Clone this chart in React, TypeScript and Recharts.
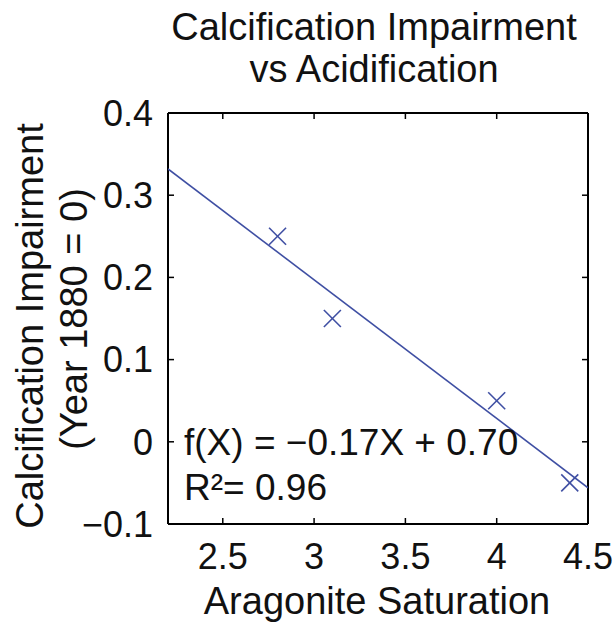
import { ComposedChart, Scatter, XAxis, YAxis, ReferenceLine } from 'recharts';

// Measured points (aragonite saturation vs impairment)
const saturation = [2.8, 3.1, 4.0, 4.4];
const impairment = [0.25, 0.15, 0.05, -0.05];

// Fit line end points, read at the plot edges
const fitX = [2.2, 4.5];
const fitY = [0.332, -0.056];

const xDomain = [2.2, 4.5];
const yDomain = [-0.1, 0.4];
const xTicks = [2.5, 3, 3.5, 4, 4.5];
const yTicks = [-0.1, 0, 0.1, 0.2, 0.3, 0.4];

const BLUE = '#3f4fa3';
const FONT = '"Liberation Sans", Arial, Helvetica, sans-serif';

const points = saturation.map((x, i) => ({ x, y: impairment[i] }));
const fit = fitX.map((x, i) => ({ x, y: fitY[i] }));

// inner tick length as a share of each axis span (about 6px on a ~415px box)
const xTickLen = (xDomain[1] - xDomain[0]) * 6 / 420;
const yTickLen = (yDomain[1] - yDomain[0]) * 6 / 411;

const Cross = (props: any) => {
    const { cx, cy } = props;
    const s = 8.5;
    return (
        <g stroke={BLUE} strokeWidth={1.6}>
            <line x1={cx - s} y1={cy - s} x2={cx + s} y2={cy + s} />
            <line x1={cx - s} y1={cy + s} x2={cx + s} y2={cy - s} />
        </g>
    );
};

const tickStyle = { fontSize: 36, fill: '#111', fontFamily: FONT };
const boxLine = { stroke: '#000', strokeWidth: 2 };

const App = () => {
    return (
        <div style={{ position: 'absolute', left: 0, top: 0, width: 615, height: 622, background: '#fff' }}>
            <ComposedChart
                width={615}
                height={622}
                margin={{ top: 112, right: 26, bottom: 38, left: 108 }}
            >
                <XAxis
                    dataKey="x"
                    type="number"
                    domain={xDomain}
                    ticks={xTicks}
                    allowDataOverflow
                    height={60}
                    tickSize={0}
                    tickMargin={19}
                    tick={tickStyle}
                    tickLine={false}
                    axisLine={boxLine}
                />
                <XAxis xAxisId="top" orientation="top" dataKey="x" type="number"
                    domain={xDomain} ticks={xTicks} allowDataOverflow height={1}
                    tick={false} tickLine={false} axisLine={boxLine} />
                <YAxis
                    dataKey="y"
                    type="number"
                    domain={yDomain}
                    ticks={yTicks}
                    allowDataOverflow
                    width={60}
                    tickSize={0}
                    tickMargin={15}
                    tick={tickStyle}
                    tickLine={false}
                    tickFormatter={(v: number) => (v < 0 ? '\u2212' + Math.abs(v) : String(v))}
                    axisLine={boxLine}
                />
                <YAxis yAxisId="right" orientation="right" dataKey="y" type="number"
                    domain={yDomain} ticks={yTicks} allowDataOverflow width={1}
                    tick={false} tickLine={false} axisLine={boxLine} />

                {/* inward tick marks on all four sides of the box */}
                {xTicks.map((t) => (
                    <ReferenceLine key={'xb' + t} stroke="#000" strokeWidth={1.5}
                        segment={[{ x: t, y: yDomain[0] }, { x: t, y: yDomain[0] + yTickLen }]} />
                ))}
                {xTicks.map((t) => (
                    <ReferenceLine key={'xt' + t} stroke="#000" strokeWidth={1.5}
                        segment={[{ x: t, y: yDomain[1] }, { x: t, y: yDomain[1] - yTickLen }]} />
                ))}
                {yTicks.map((t) => (
                    <ReferenceLine key={'yl' + t} stroke="#000" strokeWidth={1.5}
                        segment={[{ x: xDomain[0], y: t }, { x: xDomain[0] + xTickLen, y: t }]} />
                ))}
                {yTicks.map((t) => (
                    <ReferenceLine key={'yr' + t} stroke="#000" strokeWidth={1.5}
                        segment={[{ x: xDomain[1], y: t }, { x: xDomain[1] - xTickLen, y: t }]} />
                ))}

                <Scatter
                    data={fit}
                    line={{ stroke: BLUE, strokeWidth: 1.6 }}
                    shape={() => null}
                    isAnimationActive={false}
                />
                <Scatter data={points} shape={<Cross />} isAnimationActive={false} />
            </ComposedChart>

            {/* title, axis labels and fit note */}
            <svg
                width={615}
                height={622}
                style={{ position: 'absolute', left: 0, top: 0, pointerEvents: 'none' }}
                fontFamily={FONT}
                fill="#111"
            >
                <text x={374} y={40} fontSize={38} textAnchor="middle">Calcification Impairment</text>
                <text x={374} y={82} fontSize={38} textAnchor="middle">vs Acidification</text>
                <text x={377} y={614} fontSize={38} textAnchor="middle">Aragonite Saturation</text>
                <text transform="translate(43,326) rotate(-90)" fontSize={38} textAnchor="middle">
                    Calcification Impairment
                </text>
                <text transform="translate(87,319) rotate(-90)" fontSize={38} textAnchor="middle">
                    (Year 1880 = 0)
                </text>
                <text x={184} y={455} fontSize={37}>f(X) = {'\u2212'}0.17X + 0.70</text>
                <text x={184} y={500} fontSize={37}>R{'\u00b2'}= 0.96</text>
            </svg>
        </div>
    );
};

export default App;
